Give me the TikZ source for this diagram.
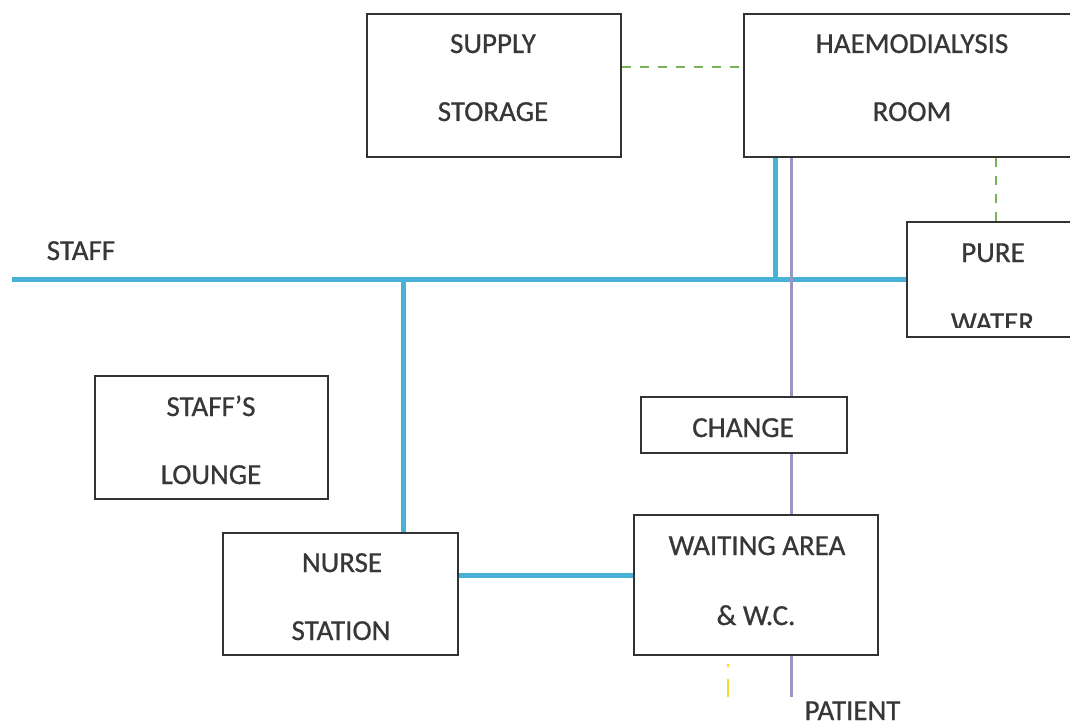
\documentclass[tikz,border=0pt]{standalone}
\usepackage{fontspec}
\setmainfont{Carlito}
\newfontfamily\roomfont{Carlito}[FakeBold=0.7]
\definecolor{boxgray}{RGB}{50,50,50}
\definecolor{txtgray}{RGB}{55,55,55}
\definecolor{staffblue}{RGB}{72,178,214}
\definecolor{patientpurple}{RGB}{150,150,192}
\definecolor{supplygreen}{RGB}{122,178,88}
\definecolor{linkyellow}{RGB}{248,218,40}
\begin{document}
\begin{tikzpicture}[x=1pt,y=-1pt,
  room/.style={draw=boxgray, line width=1.8pt, rectangle, inner sep=0pt},
  lbl/.style={text=txtgray, font=\roomfont\fontsize{29}{34}\selectfont, inner sep=0pt, anchor=base},
  staffroute/.style={draw=staffblue, line width=5pt},
  patientroute/.style={draw=patientpurple, line width=3pt},
  supplyroute/.style={draw=supplygreen, line width=2.2pt, dash pattern=on 9pt off 9pt},
  otherroute/.style={draw=linkyellow, line width=2.5pt, dash pattern=on 3pt off 12pt on 20pt off 10pt}]

\clip (0,0) rectangle (1070,727);
\fill[white] (0,0) rectangle (1070,727);

% rooms
\node[room, minimum width=254pt, minimum height=143pt] (supply)  at (494,85.5) {};
\node[room, minimum width=341pt, minimum height=143pt] (haemo)   at (914.5,85.5) {};
\node[room, minimum width=178pt, minimum height=115pt] (pure)    at (996,279.5) {};
\node[room, minimum width=233pt, minimum height=123pt] (lounge)  at (211.5,437.5) {};
\node[room, minimum width=206pt, minimum height=56pt]  (change)  at (744,425) {};
\node[room, minimum width=235pt, minimum height=122pt] (nurse)   at (340.5,594) {};
\node[room, minimum width=244pt, minimum height=140pt] (waiting) at (756,585) {};

% room names
\node[lbl] (supplyA)  at (493,53)  {SUPPLY};
\node[lbl] (supplyB)  at (493,121) {STORAGE};
\node[lbl] (haemoA)   at (912,53)  {HAEMODIALYSIS};
\node[lbl] (haemoB)   at (912,121) {ROOM};
\node[lbl] (pureA)    at (993,262) {PURE};
\begin{scope}
  \clip (pure.west |- 0,300) rectangle (1070,327);
  \node[lbl] (pureB)  at (992.5,332) {WATER};
\end{scope}
\node[lbl] (loungeA)  at (211,416) {STAFF’S};
\node[lbl] (loungeB)  at (211,484) {LOUNGE};
\node[lbl] (changeA)  at (743,437) {CHANGE};
\node[lbl] (nurseA)   at (342,572) {NURSE};
\node[lbl] (nurseB)   at (341,640) {STATION};
\node[lbl] (waitingA) at (757,555) {WAITING AREA};
\node[lbl] (waitingB) at (756,625) {\& W.C.};
\node[lbl] (staffT)   at (81,260)  {STAFF};
\node[lbl] (patientT) at (852.5,720) {PATIENT};

% route points
\coordinate (staffstart) at (12,279);
\coordinate (teeHaemo)   at (775,279);
\coordinate (teeNurse)   at (403,279);
\coordinate (nurseLink)  at (0,575);
\coordinate (greenRow)   at (0,67);
\coordinate (patientEnd) at (791,697);
\coordinate (yellowTop)  at (728,664);
\coordinate (yellowEnd)  at (728,697);

% supply connections
\draw[supplyroute] (supply.east |- greenRow) -- (haemo.west |- greenRow);
\draw[supplyroute] (pure.north |- haemo.south) -- (pure.north);

% staff route
\draw[staffroute] (staffstart) -- (staffstart -| pure.west);
\draw[staffroute] (teeHaemo |- haemo.south) -- (teeHaemo);
\draw[staffroute] (teeNurse) -- (teeNurse |- nurse.north);
\draw[staffroute] (nurse.east |- nurseLink) -- (waiting.west |- nurseLink);

% patient route
\draw[patientroute] (patientEnd |- haemo.south) -- (patientEnd |- change.north);
\draw[patientroute] (patientEnd |- change.south) -- (patientEnd |- waiting.north);
\draw[patientroute] (patientEnd |- waiting.south) -- (patientEnd);

% other route
\draw[otherroute] (yellowTop) -- (yellowEnd);
\end{tikzpicture}
\end{document}
